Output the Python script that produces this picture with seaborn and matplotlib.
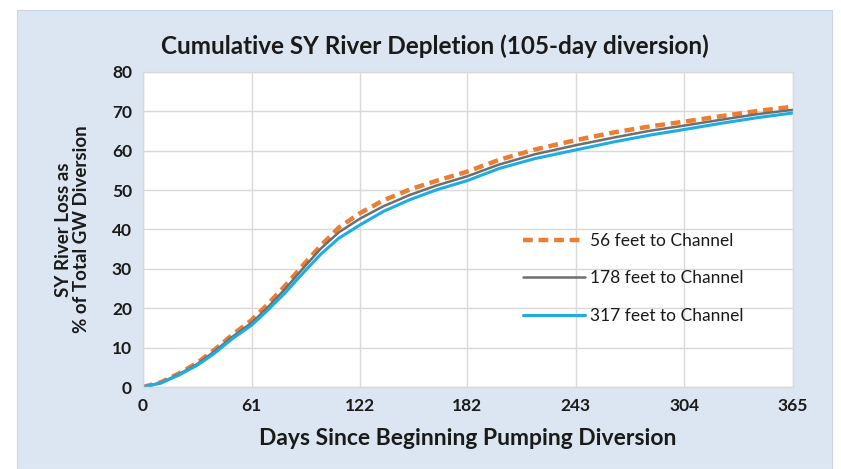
import numpy as np
import pandas as pd
import matplotlib
matplotlib.use("Agg")
import matplotlib.pyplot as plt
import seaborn as sns
from matplotlib.patches import Rectangle

# values
days = [0, 10, 20, 30, 40, 50, 61, 70, 80, 90, 100, 110, 122, 135, 150,
        165, 182, 200, 220, 243, 265, 285, 304, 325, 345, 365]
loss_56 = [0, 1.2, 3.4, 6.0, 9.4, 13.2, 17.0, 21.0, 25.8, 31.0, 36.0, 40.5, 44.2,
           47.4, 50.2, 52.4, 54.7, 57.7, 60.3, 62.7, 64.7, 66.2, 67.4, 68.8, 70.1, 71.2]
loss_178 = [0, 1.1, 3.2, 5.7, 9.0, 12.7, 16.3, 20.2, 25.0, 30.2, 35.2, 39.3, 42.8,
            45.9, 48.8, 51.2, 53.5, 56.5, 59.1, 61.4, 63.4, 65.1, 66.4, 67.9, 69.3, 70.4]
loss_317 = [0, 1.0, 3.0, 5.4, 8.5, 12.2, 15.7, 19.5, 24.0, 29.0, 33.8, 37.8, 41.2,
            44.6, 47.6, 50.1, 52.4, 55.5, 58.0, 60.2, 62.3, 64.0, 65.4, 67.0, 68.4, 69.6]
series_names = ["56 feet to Channel", "178 feet to Channel", "317 feet to Channel"]
x_ticks = [0, 61, 122, 182, 243, 304, 365]
y_ticks = [0, 10, 20, 30, 40, 50, 60, 70, 80]

sns.set_theme(style="white")
plt.rcParams['font.family'] = ['Lato', 'DejaVu Sans']

fig = plt.figure(figsize=(8.41, 4.69), dpi=100, facecolor="white")
# light blue chart area
fig.patches.append(Rectangle((17 / 841, 0), (832 - 17) / 841, 1 - 10 / 469,
                             transform=fig.transFigure, facecolor="#DCE6F2",
                             edgecolor="#C9D6E6", lw=0.8, zorder=-10))
ax = fig.add_axes([143 / 841, 1 - 387 / 469, (793 - 143) / 841, (387 - 72) / 469])
ax.set_zorder(5)
ax.set_facecolor("white")

styles = [dict(color="#ED7D31", lw=3.2, ls=(0, (2.2, 1.3))),
          dict(color="#6E6E6E", lw=1.8, ls="-"),
          dict(color="#1CADE4", lw=2.2, ls="-")]
for vals, name, st in zip([loss_56, loss_178, loss_317], series_names, styles):
    sns.lineplot(x=days, y=vals, ax=ax, label=name, color=st["color"],
                 linewidth=st["lw"], linestyle=st["ls"])

ax.set_xlim(0, 365)
ax.set_ylim(0, 80)
ax.set_xticks(x_ticks)
ax.set_yticks(y_ticks)
ax.grid(True, color="#D9D9D9", lw=1.0)
ax.set_axisbelow(True)
for sp in ax.spines.values():
    sp.set_color("#D9D9D9")
    sp.set_linewidth(1.0)
ax.tick_params(axis="both", length=0, labelsize=12.5, colors="#1a1a1a", pad=8)
for lab in ax.get_xticklabels() + ax.get_yticklabels():
    lab.set_fontweight("bold")

ax.set_xlabel("Days Since Beginning Pumping Diversion", fontsize=16.5,
              fontweight="bold", labelpad=10, color="#1a1a1a")
ax.set_ylabel("SY River Loss as\n% of Total GW Diversion", fontsize=13.5,
              fontweight="bold", labelpad=16, color="#1a1a1a", linespacing=1.05)
fig.text(0.517, 1 - 46 / 469, "Cumulative SY River Depletion (105-day diversion)",
         ha="center", va="center", fontsize=17.5, fontweight="bold", color="#1a1a1a")

leg = ax.legend(loc="center left", bbox_to_anchor=(0.56, 0.345), frameon=False,
                fontsize=12.5, handlelength=3.6, labelspacing=1.25, handletextpad=0.3)
for t in leg.get_texts():
    t.set_color("#1a1a1a")

fig.savefig("out.png", dpi=100, facecolor="white")
